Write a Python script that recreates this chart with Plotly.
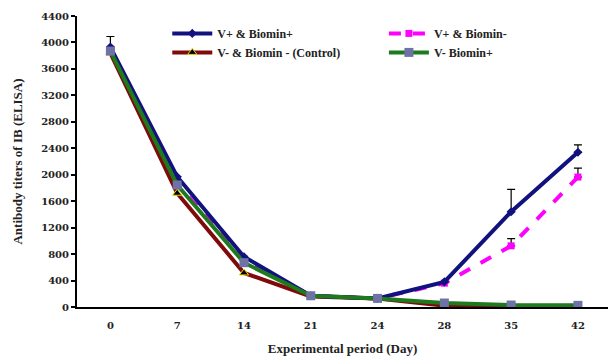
import plotly.graph_objects as go

days = ["0", "7", "14", "21", "24", "28", "35", "42"]
y_ticks = [0, 400, 800, 1200, 1600, 2000, 2400, 2800, 3200, 3600, 4000, 4400]

vpos_biopos = [3930, 1970, 760, 170, 130, 380, 1440, 2340]
vpos_biopos_err = [160, 0, 0, 0, 0, 0, 340, 110]
vpos_bioneg = [3900, 1860, 730, 170, 130, 360, 925, 1965]
vpos_bioneg_err = [0, 0, 0, 0, 0, 0, 110, 135]
control = [3840, 1720, 515, 160, 130, 20, 10, 10]
vneg_biopos = [3870, 1845, 670, 170, 130, 60, 30, 25]

FONT = "Liberation Serif"
TICKFONT = "DejaVu Serif"

fig = go.Figure()

fig.add_trace(go.Scatter(
    x=days, y=vpos_bioneg, name="V+ & Biomin-", mode="lines+markers",
    line=dict(color="#ff00ff", width=4, dash="dash"),
    marker=dict(symbol="square", size=7, color="#ff00ff"),
    error_y=dict(type="data", array=vpos_bioneg_err, arrayminus=[0]*8, symmetric=False,
                 color="black", thickness=1.2, width=4),
    legend="legend2", legendrank=1))
fig.add_trace(go.Scatter(
    x=days, y=control, name="V- & Biomin - (Control)", mode="lines+markers",
    line=dict(color="#7f0a0a", width=4),
    marker=dict(symbol="triangle-up", size=8, color="black", line=dict(color="#f0d800", width=1)),
    legend="legend", legendrank=2))
fig.add_trace(go.Scatter(
    x=days, y=vpos_biopos, name="V+ & Biomin+", mode="lines+markers",
    line=dict(color="#12127f", width=4),
    marker=dict(symbol="diamond", size=7, color="#12127f"),
    error_y=dict(type="data", array=vpos_biopos_err, arrayminus=[0]*8, symmetric=False,
                 color="black", thickness=1.2, width=4),
    legend="legend", legendrank=1))
fig.add_trace(go.Scatter(
    x=days, y=vneg_biopos, name="V- Biomin+", mode="lines+markers",
    line=dict(color="#1d7a1d", width=4),
    marker=dict(symbol="square", size=9, color="#6e72a6"),
    legend="legend2", legendrank=2))

legend_common = dict(font=dict(family=FONT, size=12, color="#222", weight="bold"),
                     bgcolor="rgba(0,0,0,0)", orientation="v", tracegroupgap=0,
                     itemwidth=40, yanchor="top", xanchor="left", traceorder="normal")
fig.update_layout(
    width=608, height=359,
    margin=dict(l=77, r=0, t=16, b=52),
    plot_bgcolor="white", paper_bgcolor="white",
    font=dict(family=FONT, size=11, color="#222"),
    legend=dict(x=0.17, y=0.99, **legend_common),
    legend2=dict(x=0.578, y=0.99, **legend_common),
    xaxis=dict(type="category", range=[-0.5, 7.45], showgrid=False, automargin=False,
               showline=True, linecolor="black", linewidth=2, ticks="",
               ticklabelstandoff=8,
               tickfont=dict(family=TICKFONT, size=10, weight="bold"),
               title=dict(text="Experimental period (Day)", standoff=14,
                          font=dict(family=FONT, size=13, weight="bold"))),
    yaxis=dict(range=[0, 4400], tickvals=y_ticks, showgrid=False, zeroline=False,
               automargin=False,
               showline=True, linecolor="black", linewidth=2, ticks="outside",
               ticklen=4, tickwidth=2, tickcolor="black",
               tickfont=dict(family=TICKFONT, size=10, weight="bold"),
               title=dict(text="Antibody titers of IB (ELISA)", standoff=16,
                          font=dict(family=FONT, size=13, weight="bold"))),
)

fig.write_html("out.html", config={"displayModeBar": False},
               post_script="document.body.style.margin='0px';")
